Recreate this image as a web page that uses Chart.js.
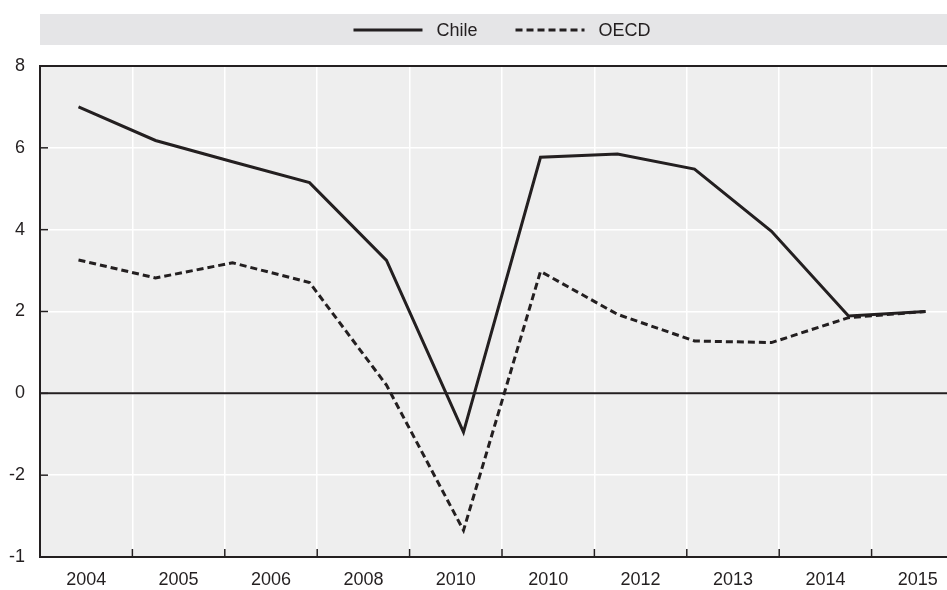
<!DOCTYPE html>
<html>
<head>
<meta charset="utf-8">
<script src="https://cdn.jsdelivr.net/npm/chart.js@4.4.1/dist/chart.umd.min.js"></script>
<style>
  html, body { margin: 0; padding: 0; background: #fff; overflow: hidden; }
  #wrap { width: 970px; height: 590px; }
</style>
</head>
<body>
<div id="wrap"><canvas id="growthChart" width="970" height="590"></canvas></div>
<script>
const years = ['2004', '2005', '2006', '2007', '2008', '2009', '2010', '2011', '2012', '2013', '2014', '2015'];
const xTickLabels = ['2004', '2005', '2006', '2008', '2010', '2010', '2012', '2013', '2014', '2015'];
const yTickValues = [8, 6, 4, 2, 0, -2, -4];
const yTickLabels = ['8', '6', '4', '2', '0', '-2', '-1'];
const chileValues = [7.0, 6.18, 5.66, 5.15, 3.25, -0.95, 5.77, 5.85, 5.48, 3.96, 1.89, 2.0];
const oecdValues = [3.26, 2.82, 3.19, 2.71, 0.2, -3.35, 2.98, 1.93, 1.28, 1.24, 1.85, 2.0];

const FONT = "'Liberation Sans Narrow', 'Liberation Sans', Arial, sans-serif";
const FONT_SIZE = 18;
const INK = '#231f20';

// grey plot area, legend band and the legend itself
const bandLegend = {
    id: 'bandLegend',
    beforeDraw(chart) {
        const { ctx, chartArea } = chart;
        ctx.save();
        ctx.fillStyle = '#e5e5e7';
        ctx.fillRect(chartArea.left, 14, chart.width - chartArea.left, 31);
        ctx.fillStyle = '#eeeeee';
        ctx.fillRect(chartArea.left, chartArea.top, chartArea.right - chartArea.left, chartArea.bottom - chartArea.top);

        ctx.font = FONT_SIZE + 'px ' + FONT;
        const sets = chart.data.datasets;
        const lineLen = 69, textGap = 14, itemGap = 38;
        let total = 0;
        sets.forEach((ds, i) => {
            total += lineLen + textGap + ctx.measureText(ds.label).width + (i ? itemGap : 0);
        });
        let x = (chartArea.left + chartArea.right) / 2 - total / 2;
        const y = 30;
        sets.forEach((ds, i) => {
            if (i) x += itemGap;
            ctx.beginPath();
            ctx.setLineDash(ds.borderDash || []);
            ctx.lineWidth = 3;
            ctx.strokeStyle = ds.borderColor;
            ctx.moveTo(x, y);
            ctx.lineTo(x + lineLen, y);
            ctx.stroke();
            ctx.setLineDash([]);
            x += lineLen + textGap;
            ctx.fillStyle = INK;
            ctx.textBaseline = 'middle';
            ctx.fillText(ds.label, x, y + 1);
            x += ctx.measureText(ds.label).width;
        });
        ctx.restore();
    }
};

// small tick marks inside the frame, top border and zero line
const innerTicks = {
    id: 'innerTicks',
    beforeDatasetsDraw(chart) {
        const { ctx, chartArea, scales } = chart;
        ctx.save();
        ctx.strokeStyle = INK;
        ctx.lineWidth = 1.5;
        scales.y.ticks.forEach(t => {
            const py = scales.y.getPixelForValue(t.value);
            ctx.beginPath();
            ctx.moveTo(chartArea.left, py);
            ctx.lineTo(chartArea.left + 8, py);
            ctx.stroke();
        });
        for (let i = 1; i < xTickLabels.length; i++) {
            const px = (scales.x.getPixelForValue(i - 1) + scales.x.getPixelForValue(i)) / 2;
            ctx.beginPath();
            ctx.moveTo(px, chartArea.bottom);
            ctx.lineTo(px, chartArea.bottom - 8);
            ctx.stroke();
        }
        ctx.lineWidth = 2;
        const zy = scales.y.getPixelForValue(0);
        ctx.beginPath();
        ctx.moveTo(chartArea.left, zy);
        ctx.lineTo(chartArea.right, zy);
        ctx.moveTo(chartArea.left, chartArea.top);
        ctx.lineTo(chartArea.right, chartArea.top);
        ctx.stroke();
        ctx.restore();
    }
};

new Chart(document.getElementById('growthChart'), {
    type: 'line',
    data: {
        datasets: [
            {
                label: 'Chile',
                data: chileValues,
                xAxisID: 'xData',
                borderColor: INK,
                borderWidth: 3,
                pointRadius: 0,
                tension: 0,
                fill: false
            },
            {
                label: 'OECD',
                data: oecdValues,
                xAxisID: 'xData',
                borderColor: INK,
                borderWidth: 3,
                borderDash: [7, 4],
                pointRadius: 0,
                tension: 0,
                fill: false
            }
        ]
    },
    options: {
        responsive: false,
        animation: false,
        layout: { padding: { top: 66, left: 0, right: 6, bottom: 1 } },
        plugins: {
            legend: { display: false },
            tooltip: { enabled: false }
        },
        scales: {
            x: {
                type: 'category',
                labels: xTickLabels,
                offset: true,
                afterFit: scale => {
                    scale.height = 32;
                },
                grid: { offset: true, color: '#ffffff', lineWidth: 1.5, drawTicks: false },
                border: { color: INK, width: 2 },
                ticks: {
                    color: INK,
                    font: { family: FONT, size: FONT_SIZE, lineHeight: 1 },
                    padding: 14,
                    maxRotation: 0,
                    autoSkip: false
                }
            },
            xData: {
                type: 'category',
                labels: years,
                offset: true,
                display: false
            },
            y: {
                min: -4,
                max: 8,
                afterBuildTicks: scale => {
                    scale.ticks = yTickValues.map(v => ({ value: v }));
                },
                afterFit: scale => {
                    scale.width = 40;
                },
                grid: { color: '#ffffff', lineWidth: 1.5, drawTicks: false },
                border: { color: INK, width: 2 },
                ticks: {
                    color: INK,
                    font: { family: FONT, size: FONT_SIZE, lineHeight: 1 },
                    padding: 15,
                    callback: v => yTickLabels[yTickValues.indexOf(v)]
                }
            }
        }
    },
    plugins: [bandLegend, innerTicks]
});
</script>
</body>
</html>
